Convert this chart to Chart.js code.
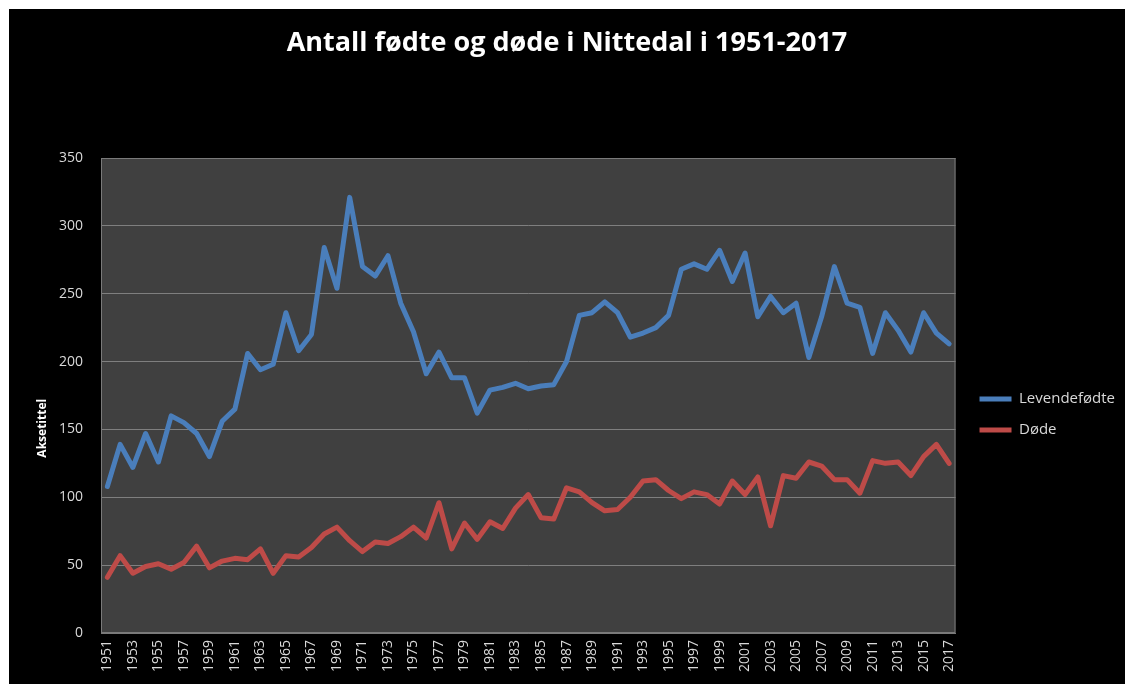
<!DOCTYPE html>
<html>
<head>
<meta charset="utf-8">
<script src="https://cdn.jsdelivr.net/npm/chart.js@4/dist/chart.umd.min.js"></script>
<style>
  html, body { margin: 0; padding: 0; background: #ffffff; width: 1125px; height: 684px; overflow: hidden; }
  #wrap { position: absolute; left: 9px; top: 9px; width: 1116px; height: 675px; background: #000000; }
  canvas { display: block; }
</style>
</head>
<body>
<div id="wrap"><canvas id="c" width="1116" height="675"></canvas></div>
<script>
const years = [];
for (let y = 1951; y <= 2017; y++) years.push(String(y));

const levendefodte = [
  108, 139, 122, 147, 126, 160, 155, 147, 130, 156,
  165, 206, 194, 198, 236, 208, 220, 284, 254, 321,
  270, 263, 278, 243, 222, 191, 207, 188, 188, 162,
  179, 181, 184, 180, 182, 183, 200, 234, 236, 244,
  236, 218, 221, 225, 234, 268, 272, 268, 282, 259,
  280, 233, 248, 236, 243, 203, 233, 270, 243, 240,
  206, 236, 223, 207, 236, 221, 213
];
const dode = [
  41, 57, 44, 49, 51, 47, 52, 64, 48, 53,
  55, 54, 62, 44, 57, 56, 63, 73, 78, 68,
  60, 67, 66, 71, 78, 70, 96, 62, 81, 69,
  82, 77, 92, 102, 85, 84, 107, 104, 96, 90,
  91, 100, 112, 113, 105, 99, 104, 102, 95, 112,
  102, 115, 79, 116, 114, 126, 123, 113, 113, 103,
  127, 125, 126, 116, 130, 139, 125
];
const yTicks = [0, 50, 100, 150, 200, 250, 300, 350];

const FONT = "'Open Sans', 'DejaVu Sans', sans-serif";
const TXT = '#d9d9d9';

const plotBg = {
  id: 'plotBg',
  beforeDraw(chart) {
    const a = chart.chartArea, ctx = chart.ctx;
    ctx.save();
    ctx.fillStyle = '#404040';
    ctx.fillRect(a.left, a.top, a.right - a.left, a.bottom - a.top);
    ctx.restore();
  },
  afterDatasetsDraw(chart) {
    const a = chart.chartArea, ctx = chart.ctx;
    ctx.save();
    ctx.strokeStyle = '#7a7a7a';
    ctx.lineWidth = 1;
    ctx.strokeRect(a.left + 0.5, a.top + 0.5, a.right - a.left - 1, a.bottom - a.top - 1);
    ctx.restore();
  }
};

new Chart(document.getElementById('c'), {
  type: 'line',
  data: {
    labels: years,
    datasets: [
      { label: 'Levendefødte', data: levendefodte, borderColor: '#4a7ebb', backgroundColor: '#4a7ebb',
        borderWidth: 5, pointRadius: 0, tension: 0, borderJoinStyle: 'round', borderCapStyle: 'round' },
      { label: 'Døde', data: dode, borderColor: '#be4b48', backgroundColor: '#be4b48',
        borderWidth: 5, pointRadius: 0, tension: 0, borderJoinStyle: 'round', borderCapStyle: 'round' }
    ]
  },
  options: {
    responsive: false,
    animation: false,
    layout: { padding: { left: 0, right: 0, top: 0, bottom: 0 } },
    plugins: {
      title: {
        display: true,
        text: 'Antall fødte og døde i Nittedal i 1951-2017',
        color: '#ffffff',
        font: { family: FONT, size: 27, weight: 'bold', lineHeight: 1.2 },
        padding: { top: 18, bottom: 98.6 }
      },
      legend: {
        position: 'right',
        align: 'center',
        title: { display: true, text: ' ', font: { size: 10, lineHeight: 1 }, padding: { top: 63, bottom: 63 } },
        labels: {
          color: TXT,
          font: { family: FONT, size: 15 },
          usePointStyle: true,
          pointStyle: 'line',
          pointStyleWidth: 32,
          padding: 16
        }
      },
      tooltip: { enabled: false }
    },
    scales: {
      x: {
        offset: true,
        grid: { display: false, drawTicks: false },
        border: { display: true, color: '#7a7a7a' },
        ticks: {
          color: TXT,
          font: { family: FONT, size: 14 },
          autoSkip: false,
          maxRotation: 90,
          minRotation: 90,
          padding: 7,
          callback: function (v, i) { return i % 2 === 0 ? years[i] : ''; }
        },
        afterFit(s) { s.height = 51; }
      },
      y: {
        min: 0,
        max: 350,
        afterBuildTicks(s) { s.ticks = yTicks.map(v => ({ value: v })); },
        grid: { color: '#7f7f7f', lineWidth: 1, drawTicks: false },
        border: { display: false },
        ticks: { color: TXT, font: { family: FONT, size: 14 }, padding: 18 },
        title: {
          display: true,
          text: 'Aksetittel' + '\u00A0'.repeat(21),
          color: '#ffffff',
          font: { family: FONT, size: 12, weight: 'bold' },
          padding: { top: 26, bottom: 0 }
        },
        afterFit(s) { s.width = 92; }
      },
      yR: {
        position: 'right',
        display: true,
        grid: { display: false, drawTicks: false },
        border: { display: false },
        ticks: { display: false },
        afterFit(s) { s.width = 8; }
      }
    }
  },
  plugins: [plotBg]
});
</script>
</body>
</html>
